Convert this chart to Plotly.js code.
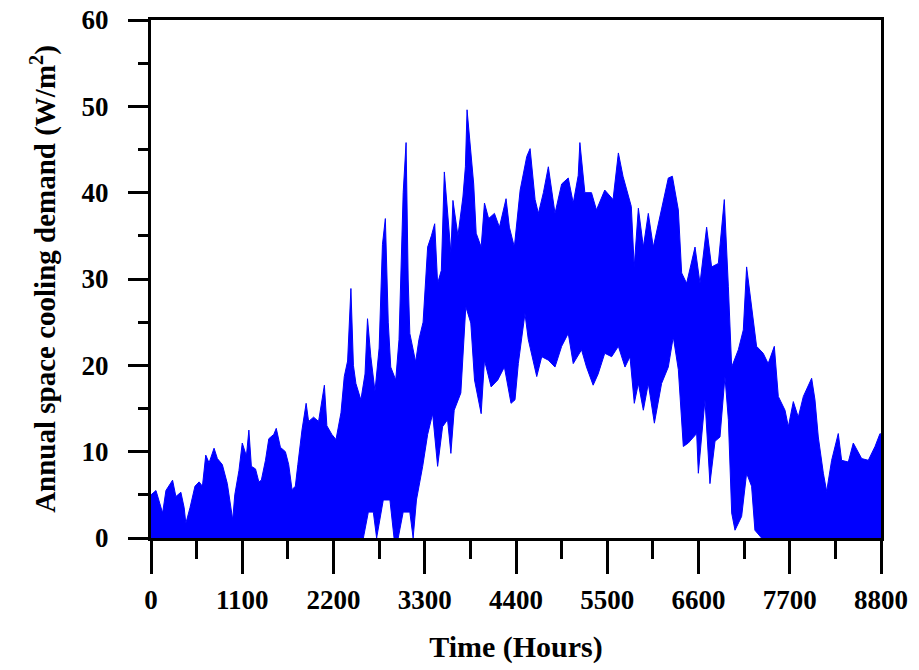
<!DOCTYPE html>
<html>
<head>
<meta charset="utf-8">
<script src="https://cdn.plot.ly/plotly-3.0.1.min.js"></script>
<style>
  html, body { margin: 0; padding: 0; background: #ffffff; }
  #chart { width: 919px; height: 670px; }
</style>
</head>
<body>
<div id="chart"></div>
<script>
// Upper envelope of the hourly cooling demand (hours, W/m2)
var upperHours = [0, 60, 140, 180, 260, 300, 360, 400, 420, 470, 530, 580, 620, 660, 700, 760, 800, 860, 920, 960, 985,
  1010, 1060, 1100, 1150, 1180, 1210, 1260, 1300, 1330, 1380, 1420, 1480, 1510, 1560, 1620, 1660, 1700, 1740, 1770, 1820,
  1870, 1900, 1960, 2020, 2090, 2120, 2180, 2230, 2290, 2330, 2370, 2410, 2440, 2470, 2530, 2580, 2610, 2650, 2700, 2750,
  2790, 2825, 2860, 2890, 2950, 2990, 3040, 3075, 3100, 3120, 3190, 3230, 3280, 3335, 3380, 3420, 3455, 3500, 3536, 3575,
  3615, 3640, 3700, 3760, 3790, 3810, 3850, 3890, 3920, 3980, 4020, 4070, 4140, 4200, 4280, 4320, 4380,
  4450, 4530, 4570, 4630, 4670, 4730, 4790, 4870, 4950, 5030, 5090, 5150, 5170, 5230, 5310, 5370, 5470, 5570, 5634, 5690,
  5790, 5825, 5875, 5935, 5995, 6055, 6155, 6236, 6285, 6357, 6397, 6457, 6558, 6618, 6698, 6758, 6839, 6911, 6960, 7000,
  7080, 7140, 7180, 7240, 7300, 7380, 7440, 7514, 7562, 7643, 7683, 7743, 7803, 7864, 7964, 8004, 8044, 8105, 8145, 8205,
  8285, 8325, 8406, 8466, 8567, 8647, 8728, 8788, 8800];
var upperValues = [5.0, 5.5, 2.9, 5.5, 6.7, 4.8, 5.3, 3.5, 1.7, 3.5, 6.0, 6.5, 6.0, 9.6, 8.7, 10.4, 9.2, 8.5, 6.3, 4.0, 2.1,
  5.0, 7.8, 11.0, 9.5, 12.5, 8.3, 8.0, 6.5, 6.7, 9.0, 11.5, 12.0, 12.7, 10.5, 10.0, 8.5, 5.6, 6.0, 8.5, 12.5,
  15.6, 13.5, 14.0, 13.5, 17.7, 13.0, 12.0, 11.4, 14.5, 18.7, 20.5, 28.9, 20.0, 17.9, 16.0, 19.0, 25.4, 21.0, 17.0, 22.0,
  34.0, 37.0, 25.0, 19.8, 18.3, 23.0, 40.0, 45.8, 30.0, 23.7, 20.4, 23.0, 25.0, 33.7, 35.0, 36.4, 29.5, 31.0, 42.4, 37.2,
  33.0, 39.1, 35.0, 39.5, 43.0, 49.6, 45.0, 41.0, 35.3, 33.7, 38.8, 37.0, 37.6, 36.0, 39.3, 36.0, 33.7,
  40.3, 44.2, 45.1, 39.2, 37.6, 40.0, 43.0, 37.6, 41.0, 41.7, 38.8, 42.0, 45.8, 40.0, 40.0, 38.0, 40.3, 39.2, 44.6, 41.9,
  38.4, 31.4, 38.2, 33.7, 37.6, 33.7, 38.0, 41.7, 41.9, 38.0, 30.7, 29.5, 33.7, 29.5, 36.0, 31.4, 31.8, 39.2, 29.1, 19.8,
  21.8, 24.1, 31.4, 26.8, 22.2, 21.4, 20.2, 22.2, 16.4, 14.8, 12.9, 15.8, 14.0, 16.4, 18.5, 16.0, 11.7, 7.5, 5.4, 9.0,
  12.1, 9.0, 8.8, 11.0, 9.2, 9.0, 10.6, 12.1, 12.0];

// Lower envelope of the hourly cooling demand (hours, W/m2)
var lowerHours = [0, 2300, 2330, 2410, 2490, 2560, 2620, 2680, 2720, 2800, 2880, 2930, 2980, 3040, 3120, 3160, 3200, 3275,
  3335, 3395, 3455, 3515, 3575, 3615, 3655, 3735, 3795, 3855, 3900, 3980, 4020, 4100, 4180, 4260, 4340, 4388,
  4428, 4508, 4548, 4630, 4650, 4710, 4790, 4870, 4950, 5030, 5090, 5190, 5250, 5330, 5390, 5470, 5553, 5634, 5714, 5774,
  5826, 5875, 5935, 5995, 6068, 6155, 6236, 6296, 6357, 6417, 6477, 6578, 6598, 6678, 6738, 6799, 6859, 6919, 6960, 7000,
  7040, 7120, 7180, 7240, 7280, 7360, 8800];
var lowerValues = [0, 0, 0, 0, 0, 0, 3.0, 3.0, 0, 4.4, 4.4, 0, 0, 3.0, 3.0, 0, 4.4, 8.3,
  12.0, 14.4, 8.3, 12.9, 13.7, 9.8, 14.8, 16.8, 26.8, 24.9, 18.3, 14.4, 20.6, 17.5, 18.3, 19.8, 15.6, 16.0,
  20.2, 26.0, 23.0, 19.8, 18.7, 21.0, 20.6, 19.8, 22.2, 23.7, 20.2, 21.8, 19.8, 17.7, 19.0, 21.4, 21.0, 22.2, 19.8, 21.0,
  15.6, 17.9, 14.8, 17.9, 13.3, 17.9, 19.8, 23.3, 19.5, 10.6, 11.0, 12.1, 7.5, 16.0, 6.3, 11.2, 11.7, 18.7, 13.7, 2.9,
  0.9, 2.5, 7.5, 6.0, 0.9, 0, 0];

var xTickVals = [0, 1100, 2200, 3300, 4400, 5500, 6600, 7700, 8800];
var xTickText = ['0', '1100', '2200', '3300', '4400', '5500', '6600', '7700', '8800'];
var yTickVals = [0, 10, 20, 30, 40, 50, 60];

var blue = '#0000ff';
var serif = 'Liberation Serif, Times New Roman, serif';

var traces = [
  {
    x: lowerHours, y: lowerValues, type: 'scatter', mode: 'lines',
    line: {color: blue, width: 1}, hoverinfo: 'skip', showlegend: false
  },
  {
    x: upperHours, y: upperValues, type: 'scatter', mode: 'lines',
    fill: 'tonexty', fillcolor: blue,
    line: {color: blue, width: 1}, hoverinfo: 'skip', showlegend: false
  }
];

var layout = {
  width: 919, height: 670,
  paper_bgcolor: '#ffffff', plot_bgcolor: '#ffffff',
  margin: {l: 151, r: 38, t: 20, b: 132},
  showlegend: false,
  font: {family: serif, color: '#000000'},
  xaxis: {
    range: [0, 8800], tickmode: 'array', tickvals: xTickVals, ticktext: xTickText,
    ticks: 'outside', ticklen: 33, tickwidth: 3, tickcolor: '#000',
    minor: {dtick: 550, tick0: 0, ticks: 'outside', ticklen: 18, tickwidth: 3, tickcolor: '#000', showgrid: false},
    showline: true, linewidth: 3, linecolor: '#000', mirror: true,
    showgrid: false, zeroline: false,
    ticklabelstandoff: 3,
    tickfont: {family: serif, size: 27, color: '#000', weight: 'bold'},
    title: {text: 'Time (Hours)', font: {family: serif, size: 30, color: '#000', weight: 'bold'}, standoff: 22}
  },
  yaxis: {
    range: [0, 60], tickmode: 'array', tickvals: yTickVals,
    ticks: 'outside', ticklen: 20, tickwidth: 3, tickcolor: '#000',
    minor: {dtick: 5, tick0: 0, ticks: 'outside', ticklen: 10, tickwidth: 3, tickcolor: '#000', showgrid: false},
    showline: true, linewidth: 3, linecolor: '#000', mirror: true,
    showgrid: false, zeroline: false,
    ticklabelstandoff: 14,
    tickfont: {family: serif, size: 27, color: '#000', weight: 'bold'},
    title: {text: 'Annual space cooling demand (W/m<sup>2</sup>)', font: {family: serif, size: 29, color: '#000', weight: 'bold'}, standoff: 18}
  }
};

Plotly.newPlot('chart', traces, layout, {displayModeBar: false, staticPlot: true});
</script>
</body>
</html>
